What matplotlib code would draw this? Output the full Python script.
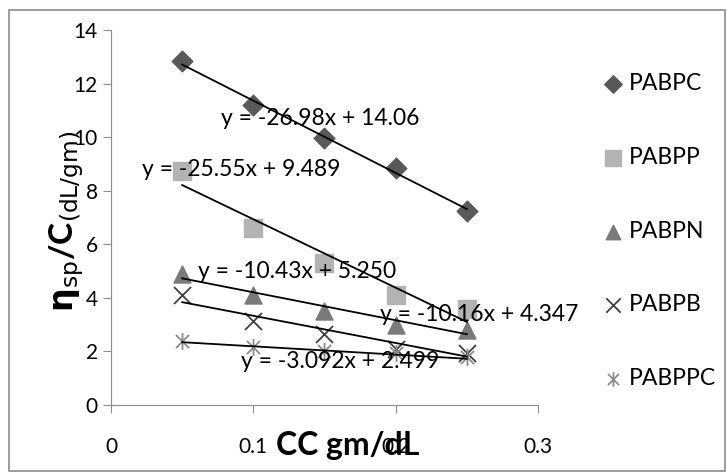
import matplotlib
matplotlib.use("Agg")
from matplotlib import pyplot as plt
from matplotlib.path import Path
from matplotlib.patches import Rectangle
import numpy as np

plt.rcParams['font.family'] = ['Lato', 'DejaVu Sans']

# Data
conc = [0.05, 0.10, 0.15, 0.20, 0.25]
series_names = ['PABPC', 'PABPP', 'PABPN', 'PABPB', 'PABPPC']
pabpc = [12.85, 11.2, 9.95, 8.85, 7.25]
pabpp = [8.75, 6.6, 5.3, 4.1, 3.6]
pabpn = [4.9, 4.1, 3.5, 3.0, 2.8]
pabpb = [4.1, 3.15, 2.65, 2.1, 1.95]
pabppc = [2.4, 2.15, 2.0, 1.95, 1.8]
slopes = [-26.98, -25.55, -10.43, -10.16, -3.092]
intercepts = [14.06, 9.489, 5.250, 4.347, 2.499]
eq_labels = ['y = -26.98x + 14.06', 'y = -25.55x + 9.489', 'y = -10.43x + 5.250',
             'y = -10.16x + 4.347', 'y = -3.092x + 2.499']

# asterisk marker like Excel's
star = Path([(-1, -1), (1, 1), (-1, 1), (1, -1), (0, -1.3), (0, 1.3)],
            [Path.MOVETO, Path.LINETO, Path.MOVETO, Path.LINETO, Path.MOVETO, Path.LINETO])

styles = [
    dict(marker='D', color='#595959', s=110),
    dict(marker='s', color='#b3b3b3', s=170),
    dict(marker='^', color='#7a7a7a', s=150),
    dict(marker='x', color='#404040', s=150, linewidths=1.3),
    dict(marker=star, color='#8c8c8c', s=150, linewidths=1.3),
]

fig = plt.figure(figsize=(7.27, 4.74), dpi=100)
ax = fig.add_axes([0.1527, 0.1456, 0.5873, 0.7911])

all_y = [pabpc, pabpp, pabpn, pabpb, pabppc]
xs = np.array(conc)
for name, ys, st, m, b in zip(series_names, all_y, styles, slopes, intercepts):
    ax.scatter(conc, ys, label=name, zorder=3, **st)
    ax.plot([xs[0], xs[-1]], [m * xs[0] + b, m * xs[-1] + b], color='black', lw=1.3, zorder=4)

# equation labels (positions in data coords)
eq_pos = [(0.077, 10.68), (0.022, 8.78), (0.061, 4.98), (0.189, 3.37), (0.091, 1.63)]
for txt, (px, py) in zip(eq_labels, eq_pos):
    ax.text(px, py, txt, fontsize=16.5, va='center', ha='left', zorder=5)

ax.set_xlim(0, 0.3)
ax.set_ylim(0, 14)
ax.set_xticks([0, 0.1, 0.2, 0.3])
ax.set_xticklabels(['0', '0.1', '0.2', '0.3'])
ax.set_yticks(range(0, 15, 2))
for s in ['top', 'right']:
    ax.spines[s].set_visible(False)
for s in ['left', 'bottom']:
    ax.spines[s].set_color('#8c8c8c')
ax.tick_params(colors='#8c8c8c', labelcolor='black', labelsize=15, length=6, direction='out')
ax.tick_params(axis='x', pad=17)

ax.set_xlabel('CC gm/dL', fontsize=23, fontweight='bold', va='center')
ax.xaxis.set_label_coords(0.555, -0.108)
ax.set_ylabel(r'$\mathbf{\eta}_{\mathrm{sp}}$/C$_{\mathrm{(dL/gm)}}$', fontsize=24,
              fontweight='bold', va='center')
ax.yaxis.set_label_coords(-0.103, 0.49)

ax.legend(loc='upper left', bbox_to_anchor=(1.1, 0.94), frameon=False, fontsize=16.5,
          labelspacing=2.3, handletextpad=0.2, handlelength=1.0, scatterpoints=1,
          markerscale=0.85)

fig.patches.append(Rectangle((0.012, 0.006), 0.985, 0.972, transform=fig.transFigure,
                             fill=False, edgecolor='#8c8c8c', lw=1.2))

fig.savefig('out.png', dpi=100)
